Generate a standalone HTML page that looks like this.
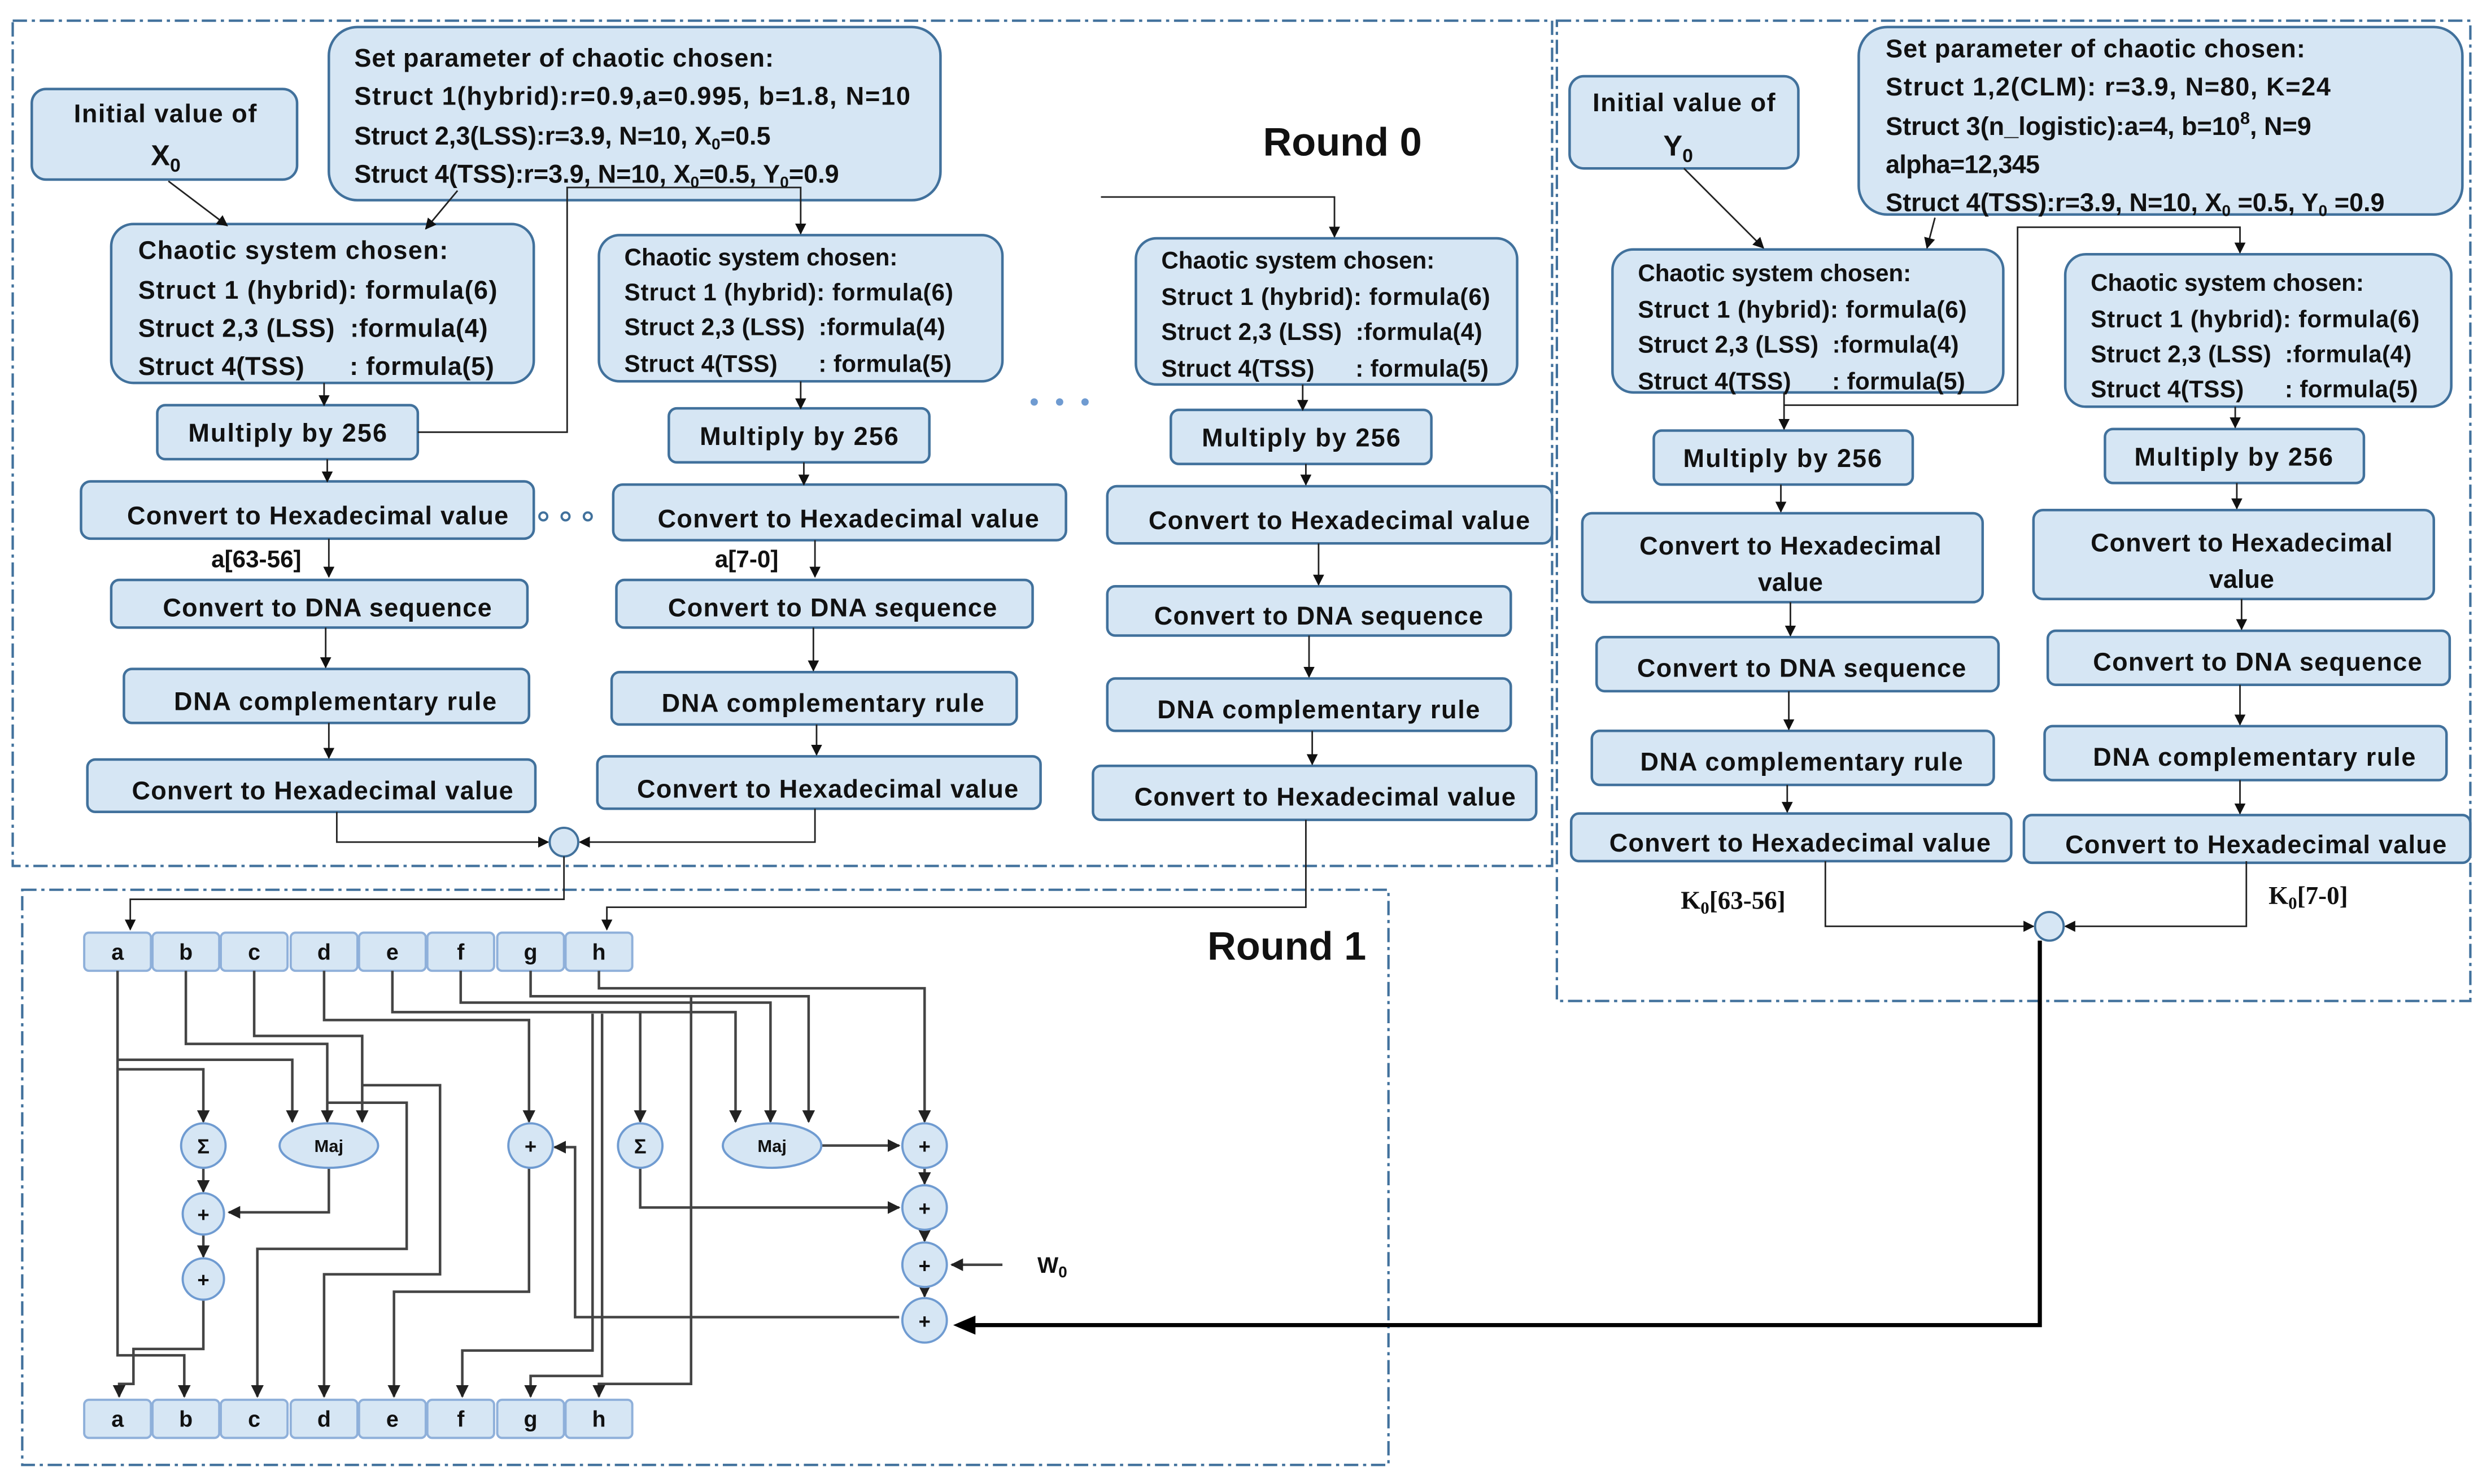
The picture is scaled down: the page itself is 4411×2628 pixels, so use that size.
<!DOCTYPE html>
<html><head><meta charset="utf-8"><style>
html,body{margin:0;padding:0;background:#fff;}
svg{display:block;}
text{font-family:"Liberation Sans",sans-serif;font-weight:bold;fill:#111;white-space:pre;}
.b{fill:#d6e6f4;stroke:#41719c;stroke-width:1.6;}
.l{fill:none;stroke:#222;stroke-width:1;}
.l2{fill:none;stroke:#444;stroke-width:1.6;}
.fr{fill:none;stroke:#41719c;stroke-width:1.5;stroke-dasharray:9,3,2,3;}
.op{fill:#d6e6f4;stroke:#6f9bd1;stroke-width:1.4;}
.rb{fill:#d6e6f4;stroke:#8fb0da;stroke-width:1.4;}
</style></head><body>
<svg width="4411" height="2628" viewBox="0 0 1568 934" preserveAspectRatio="none" xmlns="http://www.w3.org/2000/svg" xml:space="preserve">
<defs>
<marker id="a" viewBox="0 0 10 10" refX="9" refY="5" markerWidth="7" markerHeight="7" orient="auto-start-reverse"><path d="M0,0L10,5L0,10z" fill="#111"/></marker>
<marker id="s" viewBox="0 0 10 10" refX="9" refY="5" markerWidth="5" markerHeight="5" orient="auto"><path d="M0,0L10,5L0,10z" fill="#222"/></marker>
</defs>
<rect width="1568" height="934" fill="#fff"/>
<rect class="fr" x="8" y="13" width="969" height="532"/>
<rect class="fr" x="980" y="13" width="575" height="617"/>
<rect class="fr" x="14" y="560" width="860" height="362"/>

<rect class="b" x="20" y="56" width="167" height="57" rx="9"/>
<text x="104" y="77" font-size="16" text-anchor="middle" textLength="115">Initial value of</text>
<text x="95" y="104" font-size="18">X<tspan font-size="12" dy="4">0</tspan></text>

<rect class="b" x="207" y="17" width="385" height="109" rx="18"/>
<text x="223" y="42" font-size="16" textLength="264">Set parameter of chaotic chosen:</text>
<text x="223" y="66" font-size="16" textLength="350">Struct 1(hybrid):r=0.9,a=0.995, b=1.8, N=10</text>
<text x="223" y="91" font-size="16">Struct 2,3(LSS):r=3.9, N=10, X<tspan font-size="10" dy="3">0</tspan><tspan dy="-3">=0.5</tspan></text>
<text x="223" y="115" font-size="16">Struct 4(TSS):r=3.9, N=10, X<tspan font-size="10" dy="3">0</tspan><tspan dy="-3">=0.5, Y</tspan><tspan font-size="10" dy="3">0</tspan><tspan dy="-3">=0.9</tspan></text>

<rect class="b" x="70" y="141" width="266" height="100" rx="14"/>
<text x="87" y="163" font-size="16" textLength="195">Chaotic system chosen:</text>
<text x="87" y="188" font-size="16" textLength="226">Struct 1 (hybrid): formula(6)</text>
<text x="87" y="212" font-size="16" textLength="220">Struct 2,3 (LSS)  :formula(4)</text>
<text x="87" y="236" font-size="16" textLength="224">Struct 4(TSS)      : formula(5)</text>

<rect class="b" x="377" y="148" width="254" height="92" rx="13"/>
<text x="393" y="167" font-size="15" textLength="172">Chaotic system chosen:</text>
<text x="393" y="189" font-size="15" textLength="207">Struct 1 (hybrid): formula(6)</text>
<text x="393" y="211" font-size="15" textLength="202">Struct 2,3 (LSS)  :formula(4)</text>
<text x="393" y="234" font-size="15" textLength="206">Struct 4(TSS)      : formula(5)</text>

<rect class="b" x="715" y="150" width="240" height="92" rx="13"/>
<text x="731" y="169" font-size="15" textLength="172">Chaotic system chosen:</text>
<text x="731" y="192" font-size="15" textLength="207">Struct 1 (hybrid): formula(6)</text>
<text x="731" y="214" font-size="15" textLength="202">Struct 2,3 (LSS)  :formula(4)</text>
<text x="731" y="237" font-size="15" textLength="206">Struct 4(TSS)      : formula(5)</text>

<rect class="b" x="99" y="255" width="164" height="34" rx="5"/><text x="181" y="278" font-size="16" text-anchor="middle" textLength="125">Multiply by 256</text>
<rect class="b" x="421" y="257" width="164" height="34" rx="5"/><text x="503" y="280" font-size="16" text-anchor="middle" textLength="125">Multiply by 256</text>
<rect class="b" x="737" y="258" width="164" height="34" rx="5"/><text x="819" y="281" font-size="16" text-anchor="middle" textLength="125">Multiply by 256</text>

<rect class="b" x="51" y="303" width="285" height="36" rx="6"/><text x="200" y="330" font-size="16" text-anchor="middle" textLength="240">Convert to Hexadecimal value</text>
<rect class="b" x="386" y="305" width="285" height="35" rx="6"/><text x="534" y="332" font-size="16" text-anchor="middle" textLength="240">Convert to Hexadecimal value</text>
<rect class="b" x="697" y="306" width="280" height="36" rx="6"/><text x="843" y="333" font-size="16" text-anchor="middle" textLength="240">Convert to Hexadecimal value</text>

<rect class="b" x="70" y="365" width="262" height="30" rx="5"/><text x="206" y="388" font-size="16" text-anchor="middle" textLength="207">Convert to DNA sequence</text>
<rect class="b" x="388" y="365" width="262" height="30" rx="5"/><text x="524" y="388" font-size="16" text-anchor="middle" textLength="207">Convert to DNA sequence</text>
<rect class="b" x="697" y="369" width="254" height="31" rx="5"/><text x="830" y="393" font-size="16" text-anchor="middle" textLength="207">Convert to DNA sequence</text>

<rect class="b" x="78" y="421" width="255" height="34" rx="5"/><text x="211" y="447" font-size="16" text-anchor="middle" textLength="203">DNA complementary rule</text>
<rect class="b" x="385" y="423" width="255" height="33" rx="5"/><text x="518" y="448" font-size="16" text-anchor="middle" textLength="203">DNA complementary rule</text>
<rect class="b" x="697" y="427" width="254" height="33" rx="5"/><text x="830" y="452" font-size="16" text-anchor="middle" textLength="203">DNA complementary rule</text>

<rect class="b" x="55" y="478" width="282" height="33" rx="5"/><text x="203" y="503" font-size="16" text-anchor="middle" textLength="240">Convert to Hexadecimal value</text>
<rect class="b" x="376" y="476" width="279" height="33" rx="5"/><text x="521" y="502" font-size="16" text-anchor="middle" textLength="240">Convert to Hexadecimal value</text>
<rect class="b" x="688" y="482" width="279" height="34" rx="5"/><text x="834" y="507" font-size="16" text-anchor="middle" textLength="240">Convert to Hexadecimal value</text>

<text x="845" y="98" font-size="25" text-anchor="middle">Round 0</text>
<text x="133" y="357" font-size="15">a[63-56]</text>
<text x="450" y="357" font-size="15">a[7-0]</text>
<g fill="none" stroke="#41719c" stroke-width="1.4"><circle cx="342" cy="325" r="2.5"/><circle cx="356" cy="325" r="2.5"/><circle cx="370" cy="325" r="2.5"/></g>
<g fill="#6f9bd1"><circle cx="651" cy="253" r="2.3"/><circle cx="667" cy="253" r="2.3"/><circle cx="683" cy="253" r="2.3"/></g>

<g class="l" marker-end="url(#a)">
<path d="M106,114L143,142"/>
<path d="M288,120L268,144"/>
<path d="M263,272H357V118H504V147"/>
<path d="M693,124H840V149"/>
<path d="M204,241V255"/><path d="M206,289V303"/><path d="M207,339V363"/><path d="M205,395V420"/><path d="M207,455V477"/>
<path d="M504,240V257"/><path d="M506,291V305"/><path d="M513,340V363"/><path d="M512,395V422"/><path d="M514,456V475"/>
<path d="M820,242V258"/><path d="M822,292V305"/><path d="M830,342V368"/><path d="M824,400V426"/><path d="M826,460V481"/>
<path d="M212,511V530H345"/><path d="M513,509V530H365"/>
</g>
<circle cx="355" cy="530" r="9" fill="#d6e6f4" stroke="#41719c" stroke-width="1.4"/>

<rect class="b" x="988" y="48" width="144" height="58" rx="9"/>
<text x="1060" y="70" font-size="16" text-anchor="middle" textLength="115">Initial value of</text>
<text x="1047" y="98" font-size="18">Y<tspan font-size="12" dy="4">0</tspan></text>

<rect class="b" x="1170" y="17" width="380" height="118" rx="18"/>
<text x="1187" y="36" font-size="16" textLength="264">Set parameter of chaotic chosen:</text>
<text x="1187" y="60" font-size="16" textLength="280">Struct 1,2(CLM): r=3.9, N=80, K=24</text>
<text x="1187" y="85" font-size="16">Struct 3(n_logistic):a=4, b=10<tspan font-size="11" dy="-7">8</tspan><tspan dy="7">, N=9</tspan></text>
<text x="1187" y="109" font-size="16" textLength="97">alpha=12,345</text>
<text x="1187" y="133" font-size="16">Struct 4(TSS):r=3.9, N=10, X<tspan font-size="10" dy="3">0</tspan><tspan dy="-3"> =0.5, Y</tspan><tspan font-size="10" dy="3">0</tspan><tspan dy="-3"> =0.9</tspan></text>

<rect class="b" x="1015" y="157" width="246" height="90" rx="13"/>
<text x="1031" y="177" font-size="15" textLength="172">Chaotic system chosen:</text>
<text x="1031" y="200" font-size="15" textLength="207">Struct 1 (hybrid): formula(6)</text>
<text x="1031" y="222" font-size="15" textLength="202">Struct 2,3 (LSS)  :formula(4)</text>
<text x="1031" y="245" font-size="15" textLength="206">Struct 4(TSS)      : formula(5)</text>

<rect class="b" x="1300" y="160" width="243" height="96" rx="13"/>
<text x="1316" y="183" font-size="15" textLength="172">Chaotic system chosen:</text>
<text x="1316" y="206" font-size="15" textLength="207">Struct 1 (hybrid): formula(6)</text>
<text x="1316" y="228" font-size="15" textLength="202">Struct 2,3 (LSS)  :formula(4)</text>
<text x="1316" y="250" font-size="15" textLength="206">Struct 4(TSS)      : formula(5)</text>

<rect class="b" x="1041" y="271" width="163" height="34" rx="5"/><text x="1122" y="294" font-size="16" text-anchor="middle" textLength="125">Multiply by 256</text>
<rect class="b" x="1325" y="270" width="163" height="34" rx="5"/><text x="1406" y="293" font-size="16" text-anchor="middle" textLength="125">Multiply by 256</text>

<rect class="b" x="996" y="323" width="252" height="56" rx="6"/>
<text x="1127" y="349" font-size="16" text-anchor="middle" textLength="190">Convert to Hexadecimal</text>
<text x="1127" y="372" font-size="16" text-anchor="middle">value</text>
<rect class="b" x="1280" y="321" width="252" height="56" rx="6"/>
<text x="1411" y="347" font-size="16" text-anchor="middle" textLength="190">Convert to Hexadecimal</text>
<text x="1411" y="370" font-size="16" text-anchor="middle">value</text>

<rect class="b" x="1005" y="401" width="253" height="34" rx="5"/><text x="1134" y="426" font-size="16" text-anchor="middle" textLength="207">Convert to DNA sequence</text>
<rect class="b" x="1289" y="397" width="253" height="34" rx="5"/><text x="1421" y="422" font-size="16" text-anchor="middle" textLength="207">Convert to DNA sequence</text>
<rect class="b" x="1002" y="460" width="253" height="34" rx="5"/><text x="1134" y="485" font-size="16" text-anchor="middle" textLength="203">DNA complementary rule</text>
<rect class="b" x="1287" y="457" width="253" height="34" rx="5"/><text x="1419" y="482" font-size="16" text-anchor="middle" textLength="203">DNA complementary rule</text>
<rect class="b" x="989" y="512" width="277" height="30" rx="5"/><text x="1133" y="536" font-size="16" text-anchor="middle" textLength="240">Convert to Hexadecimal value</text>
<rect class="b" x="1274" y="513" width="281" height="30" rx="5"/><text x="1420" y="537" font-size="16" text-anchor="middle" textLength="240">Convert to Hexadecimal value</text>

<text x="1058" y="572" font-size="16" style="font-family:'Liberation Serif',serif">K<tspan font-size="11" dy="3">0</tspan><tspan dy="-3">[63-56]</tspan></text>
<text x="1428" y="569" font-size="16" style="font-family:'Liberation Serif',serif">K<tspan font-size="11" dy="3">0</tspan><tspan dy="-3">[7-0]</tspan></text>

<g class="l" marker-end="url(#a)">
<path d="M1060,106L1110,156"/>
<path d="M1218,137L1213,156"/>
<path d="M1123,255H1270V143H1410V159"/>
<path d="M1123,247V270"/><path d="M1407,256V269"/>
<path d="M1121,305V322"/><path d="M1408,304V320"/>
<path d="M1127,379V400"/><path d="M1411,377V396"/>
<path d="M1126,435V459"/><path d="M1410,431V456"/>
<path d="M1125,494V511"/><path d="M1410,491V512"/>
<path d="M1149,542V583H1280"/><path d="M1414,542V583H1300"/>
</g>
<circle cx="1290" cy="583" r="9" fill="#d6e6f4" stroke="#41719c" stroke-width="1.4"/>
<path d="M1284,592V834H610" fill="none" stroke="#000" stroke-width="2.6"/>
<path d="M600,834L614,828L614,840z" fill="#000"/>

<text x="810" y="604" font-size="25" text-anchor="middle">Round 1</text>
<path class="l" d="M355,539V566H82V585" marker-end="url(#a)"/>
<path class="l" d="M822,516V571H382V585" marker-end="url(#a)"/>

<g>
<rect class="rb" x="53" y="587" width="42" height="24" rx="3"/>
<rect class="rb" x="96" y="587" width="42" height="24" rx="3"/>
<rect class="rb" x="139" y="587" width="42" height="24" rx="3"/>
<rect class="rb" x="183" y="587" width="42" height="24" rx="3"/>
<rect class="rb" x="226" y="587" width="42" height="24" rx="3"/>
<rect class="rb" x="269" y="587" width="42" height="24" rx="3"/>
<rect class="rb" x="313" y="587" width="42" height="24" rx="3"/>
<rect class="rb" x="356" y="587" width="42" height="24" rx="3"/>
<rect class="rb" x="53" y="881" width="42" height="24" rx="3"/>
<rect class="rb" x="96" y="881" width="42" height="24" rx="3"/>
<rect class="rb" x="139" y="881" width="42" height="24" rx="3"/>
<rect class="rb" x="183" y="881" width="42" height="24" rx="3"/>
<rect class="rb" x="226" y="881" width="42" height="24" rx="3"/>
<rect class="rb" x="269" y="881" width="42" height="24" rx="3"/>
<rect class="rb" x="313" y="881" width="42" height="24" rx="3"/>
<rect class="rb" x="356" y="881" width="42" height="24" rx="3"/>
</g>
<g font-size="14" text-anchor="middle">
<text x="74" y="604">a</text><text x="117" y="604">b</text><text x="160" y="604">c</text><text x="204" y="604">d</text><text x="247" y="604">e</text><text x="290" y="604">f</text><text x="334" y="604">g</text><text x="377" y="604">h</text>
<text x="74" y="898">a</text><text x="117" y="898">b</text><text x="160" y="898">c</text><text x="204" y="898">d</text><text x="247" y="898">e</text><text x="290" y="898">f</text><text x="334" y="898">g</text><text x="377" y="898">h</text>
</g>

<g class="l2" marker-end="url(#s)">
<path d="M74,611V853H116V879"/>
<path d="M74,667H184V706"/>
<path d="M74,673H128V706"/>
<path d="M128,735V750"/><path d="M128,777V791"/>
<path d="M128,818V849H84V871H75V879"/>
<path d="M117,611V657H206V706"/>
<path d="M160,611V652H228V706"/>
<path d="M206,694H256V786H162V879"/>
<path d="M228,683H277V802H204V879"/>
<path d="M204,611V642H333V706"/>
<path d="M333,735V813H248V879"/>
<path d="M247,611V637H463V706"/>
<path d="M290,611V631H485V706"/>
<path d="M334,611V627H509V706"/>
<path d="M377,611V622H582V706"/>
<path d="M403,637V706"/>
<path d="M373,638V850H291V879"/>
<path d="M379,638V866H334V879"/>
<path d="M448,627H435V871H377V879"/>
<path d="M207,735V763H144"/>
<path d="M517,721H566"/>
<path d="M403,735V760H566"/>
<path d="M582,735V745"/><path d="M582,774V781"/><path d="M582,810V816"/>
<path d="M631,796H599"/>
<path d="M566,829H362V722H349"/>
</g>
<g class="op">
<circle cx="128" cy="721" r="14"/><ellipse cx="207" cy="721" rx="31" ry="14"/>
<circle cx="334" cy="721" r="14"/><circle cx="403" cy="721" r="14"/><ellipse cx="486" cy="721" rx="31" ry="14"/>
<circle cx="582" cy="721" r="14"/><circle cx="582" cy="760" r="14"/><circle cx="582" cy="796" r="14"/><circle cx="582" cy="831" r="14"/>
<circle cx="128" cy="764" r="13"/><circle cx="128" cy="805" r="13"/>
</g>
<g font-size="13" text-anchor="middle">
<text x="128" y="726">Σ</text><text x="403" y="726">Σ</text>
<text x="207" y="725" font-size="11">Maj</text><text x="486" y="725" font-size="11">Maj</text>
<text x="334" y="726">+</text><text x="582" y="726">+</text><text x="582" y="765">+</text><text x="582" y="801">+</text><text x="582" y="836">+</text>
<text x="128" y="769">+</text><text x="128" y="810">+</text>
</g>
<text x="653" y="801" font-size="14">W<tspan font-size="10" dy="3">0</tspan></text>
</svg>
</body></html>
